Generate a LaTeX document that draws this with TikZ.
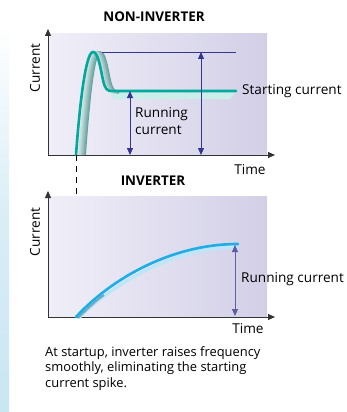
\documentclass[tikz,border=0pt]{standalone}
\usepackage{fontspec}
\setmainfont{Open Sans}
\usetikzlibrary{arrows.meta}
\definecolor{tealc}{HTML}{00A99D}
\definecolor{skyc}{HTML}{1CAEE6}
\definecolor{navyc}{HTML}{34368F}
\definecolor{panell}{HTML}{F0EFF8}
\definecolor{panelr}{HTML}{D2CFE7}
\definecolor{stripc}{HTML}{C9E6F3}
\begin{document}
\begin{tikzpicture}[x=1pt,y=-1pt,font=\fontsize{13.6}{17}\selectfont]
                \tikzstyle{every node}+=[inner sep=0pt]
                \tikzstyle{axis}=[black!80,line width=0.9pt,-{Triangle[length=7pt,width=6pt]}]
                \tikzstyle{measure}=[navyc,line width=0.8pt,{Triangle[length=7pt,width=6pt]}-{Triangle[length=7pt,width=6pt]}]
                \tikzstyle{title}=[font=\fontsize{13.4}{16}\selectfont\bfseries]
                \useasboundingbox (0,0) rectangle (347,412);
                \fill [white] (0,0) rectangle (347,412);
                \shade [top color=white, bottom color=stripc, middle color=stripc!70] (0,22) rectangle (9,412);
                % non-inverter panel
                \shade [left color=panell, right color=panelr] (48,34) rectangle (267,155);
                \node [title] (t1) at (154,17) {NON-INVERTER};
                \coordinate (o1) at (48,155);
                \coordinate (y1) at (48,29);
                \coordinate (x1) at (275,155);
                \draw [axis] (o1) -- (y1);
                \draw [axis] (o1) -- (x1);
                \node [rotate=90] (c1) at (35,68) {Current};
                \node (tm1) at (250,170) {Time};
                \fill [tealc!20] (108,91) -- (236,91) -- (230,99) -- (113,99) -- cycle;
                \foreach \i in {9,8,...,1}
                  \draw [tealc!60!black!\the\numexpr 15+\i*5\relax!white, line width=1.5pt, xshift=\i*0.8pt]
                    (78,155) .. controls (82,100) and (87,52) .. (93,52)
                    .. controls (98,52) and (100,66) .. (103,80)
                    .. controls (105,89) and (107,91) .. (112,93);
                \draw [tealc, line width=2.6pt, line cap=round]
                    (76,155) .. controls (80,100) and (86,52) .. (93,52)
                    .. controls (98,52) and (100,66) .. (103,80)
                    .. controls (105,89) and (107,91) .. (112,91) -- (236,91);
                \coordinate (s1) at (102,52);
                \coordinate (s2) at (236,52);
                \draw [navyc, line width=0.8pt] (s1) -- (s2);
                \coordinate (sa) at (201,52);
                \coordinate (sb) at (201,155);
                \draw [measure] (sa) -- (sb);
                \coordinate (ra) at (130,91);
                \coordinate (rb) at (130,155);
                \draw [measure] (ra) -- (rb);
                \node [anchor=west] (lab1) at (242,91) {Starting current};
                \node [anchor=north west, align=left] (lab2) at (135,107) {Running\\current};
                % start marker
                \coordinate (d1) at (76,155);
                \coordinate (d2) at (76,317);
                \draw [black, line width=0.8pt, dash pattern=on 6pt off 5pt] (d1) -- (d2);
                % inverter panel
                \shade [left color=panell, right color=panelr] (48,196) rectangle (267,317);
                \node [title] (t2) at (153,181) {INVERTER};
                \coordinate (o2) at (48,317);
                \coordinate (y2) at (48,191);
                \coordinate (x2) at (275,317);
                \draw [axis] (o2) -- (y2);
                \draw [axis] (o2) -- (x2);
                \node [rotate=90] (c2) at (35,232) {Current};
                \node (tm2) at (248,329) {Time};
                \draw [skyc!30, line width=3pt] (79,318) .. controls (113,284) and (172,248) .. (238,247);
                \draw [black!35!skyc!60, line width=2pt] (78,318) .. controls (90,306) and (98,299) .. (104,295);
                \draw [skyc, line width=2.6pt, line cap=round] (76,317) .. controls (110,280) and (170,244) .. (238,244);
                \coordinate (ia) at (235,245);
                \coordinate (ib) at (235,316);
                \draw [measure, navyc!80] (ia) -- (ib);
                \node [anchor=west] (lab3) at (241,279) {Running current};
                \node [anchor=north west, align=left, font=\fontsize{12.9}{15.5}\selectfont] (cap) at (45,346)
                  {At startup, inverter raises frequency\\smoothly, eliminating the starting\\current spike.};
            \end{tikzpicture}
\end{document}
